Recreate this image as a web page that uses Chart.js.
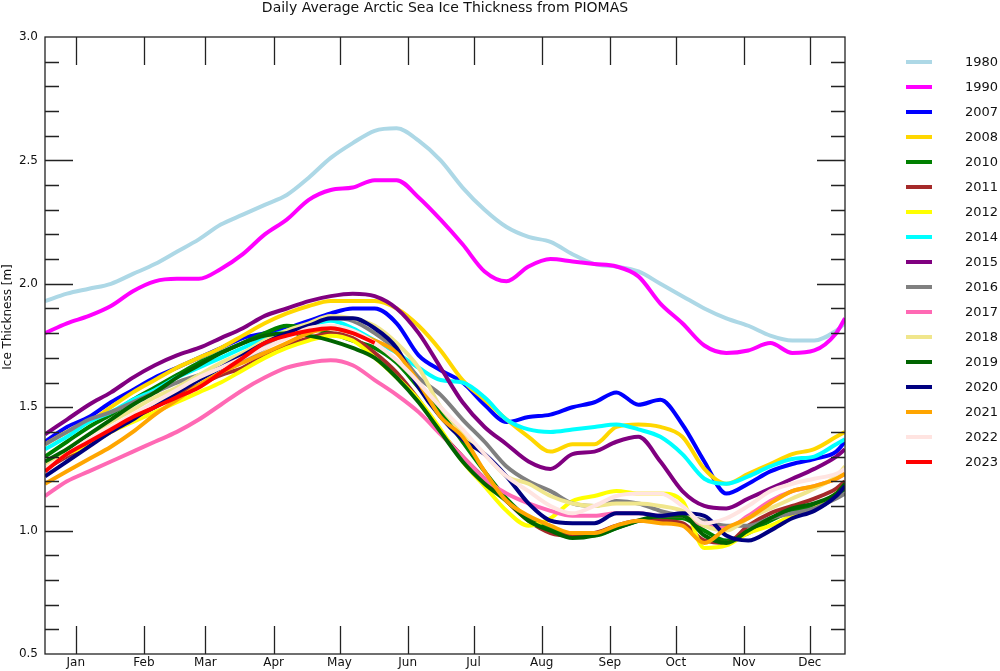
<!DOCTYPE html>
<html>
<head>
<meta charset="utf-8">
<script src="https://cdn.jsdelivr.net/npm/chart.js@4/dist/chart.umd.min.js"></script>
<style>
  html, body { margin:0; padding:0; background:#fff; }
  #wrap { width:1000px; height:671px; position:relative; }
</style>
</head>
<body>
<div id="wrap"><canvas id="iceChart"></canvas></div>
<script>
// ---------- data (day of year, thickness in m) ----------
const days = [1,11,21,31,41,51,61,71,81,91,101,111,121,131,141,151,161,171,181,191,
              201,211,221,231,241,251,261,271,281,291,301,311,321,331,341,351,361,365];

const monthDays  = [15,46,74,105,135,166,196,227,258,288,319,349];
const monthNames = ['Jan','Feb','Mar','Apr','May','Jun','Jul','Aug','Sep','Oct','Nov','Dec'];

const yearLabels = ['1980','1990','2007','2008','2010','2011','2012','2014','2015','2016','2017','2018','2019','2020','2021','2022','2023'];
const yearColors = ['#add8e6','#ff00ff','#0000ff','#ffd700','#008000','#a52a2a','#ffff00','#00ffff','#800080','#808080','#ff69b4','#f0e68c','#006400','#000080','#ffa500','#ffe4e1','#ff0000'];

const y1980 = [1.93,1.96,1.98,2.00,2.04,2.08,2.13,2.18,2.24,2.28,2.32,2.36,2.43,2.51,2.57,2.62,2.63,2.58,2.50,2.39,2.30,2.23,2.19,2.17,2.12,2.08,2.07,2.05,2.00,1.95,1.90,1.86,1.83,1.79,1.77,1.77,1.81,1.84];
const y1990 = [1.80,1.84,1.87,1.91,1.97,2.01,2.02,2.02,2.06,2.12,2.20,2.26,2.34,2.38,2.39,2.42,2.42,2.35,2.26,2.16,2.05,2.01,2.07,2.10,2.09,2.08,2.07,2.03,1.92,1.84,1.75,1.72,1.73,1.76,1.72,1.73,1.80,1.86];
const y2007 = [1.36,1.42,1.46,1.52,1.57,1.62,1.66,1.70,1.74,1.78,1.80,1.82,1.85,1.88,1.90,1.90,1.84,1.71,1.65,1.60,1.51,1.44,1.46,1.47,1.50,1.52,1.56,1.51,1.53,1.43,1.28,1.15,1.19,1.24,1.27,1.29,1.32,1.36];
const y2008 = [1.35,1.40,1.44,1.50,1.56,1.61,1.66,1.70,1.74,1.79,1.84,1.88,1.91,1.93,1.93,1.93,1.90,1.83,1.73,1.61,1.53,1.45,1.38,1.32,1.35,1.35,1.42,1.43,1.42,1.38,1.25,1.19,1.23,1.27,1.31,1.33,1.38,1.40];
const y2010 = [1.30,1.36,1.42,1.47,1.53,1.58,1.63,1.68,1.72,1.76,1.80,1.83,1.82,1.80,1.77,1.74,1.68,1.58,1.48,1.36,1.24,1.13,1.05,1.01,0.98,0.98,1.01,1.04,1.05,1.05,1.00,0.96,0.99,1.04,1.08,1.10,1.14,1.17];
const y2011 = [1.25,1.30,1.35,1.40,1.45,1.50,1.55,1.59,1.63,1.66,1.71,1.75,1.78,1.80,1.78,1.72,1.64,1.53,1.40,1.30,1.21,1.12,1.04,0.99,0.98,0.99,1.02,1.04,1.04,1.03,0.96,0.95,1.02,1.07,1.10,1.13,1.17,1.20];
const y2012 = [1.28,1.31,1.35,1.40,1.44,1.48,1.52,1.56,1.60,1.65,1.70,1.74,1.77,1.79,1.77,1.70,1.62,1.53,1.41,1.28,1.18,1.08,1.02,1.05,1.12,1.14,1.16,1.15,1.15,1.12,0.93,0.94,0.99,1.02,1.06,1.09,1.15,1.18];
const y2014 = [1.33,1.38,1.44,1.48,1.53,1.57,1.62,1.66,1.70,1.74,1.78,1.81,1.83,1.85,1.82,1.77,1.72,1.66,1.61,1.60,1.54,1.45,1.41,1.40,1.41,1.42,1.43,1.41,1.38,1.31,1.21,1.19,1.22,1.26,1.29,1.30,1.35,1.37];
const y2015 = [1.39,1.45,1.51,1.56,1.62,1.67,1.71,1.74,1.78,1.82,1.87,1.90,1.93,1.95,1.96,1.95,1.90,1.80,1.66,1.52,1.42,1.35,1.28,1.25,1.31,1.32,1.36,1.38,1.28,1.16,1.10,1.09,1.13,1.17,1.21,1.25,1.30,1.33];
const y2016 = [1.35,1.40,1.45,1.48,1.52,1.56,1.60,1.63,1.66,1.69,1.74,1.79,1.83,1.86,1.85,1.80,1.73,1.62,1.55,1.45,1.36,1.26,1.20,1.16,1.11,1.10,1.12,1.11,1.08,1.06,1.04,1.02,1.02,1.05,1.07,1.09,1.13,1.15];
const y2017 = [1.14,1.20,1.24,1.28,1.32,1.36,1.40,1.45,1.51,1.57,1.62,1.66,1.68,1.69,1.67,1.61,1.55,1.48,1.39,1.30,1.21,1.15,1.11,1.08,1.06,1.06,1.07,1.07,1.06,1.06,1.02,1.01,1.06,1.12,1.16,1.18,1.21,1.23];
const y2018 = [1.27,1.33,1.39,1.44,1.49,1.54,1.58,1.63,1.68,1.72,1.77,1.81,1.84,1.87,1.86,1.83,1.76,1.66,1.50,1.40,1.31,1.22,1.19,1.14,1.11,1.10,1.11,1.11,1.10,1.08,1.02,1.00,1.05,1.09,1.13,1.17,1.22,1.26];
const y2019 = [1.28,1.33,1.39,1.45,1.51,1.56,1.62,1.67,1.72,1.76,1.79,1.80,1.79,1.77,1.74,1.70,1.62,1.52,1.40,1.28,1.19,1.12,1.04,1.00,0.97,0.98,1.01,1.04,1.06,1.06,0.98,0.95,1.00,1.05,1.09,1.11,1.15,1.19];
const y2020 = [1.22,1.28,1.34,1.40,1.45,1.51,1.56,1.61,1.66,1.71,1.76,1.80,1.83,1.86,1.86,1.82,1.74,1.58,1.46,1.37,1.31,1.22,1.11,1.04,1.03,1.03,1.07,1.07,1.06,1.07,1.06,0.98,0.96,1.00,1.05,1.08,1.14,1.18];
const y2021 = [1.19,1.24,1.29,1.34,1.40,1.47,1.53,1.59,1.64,1.68,1.72,1.76,1.80,1.82,1.80,1.77,1.72,1.60,1.46,1.38,1.24,1.12,1.06,1.02,0.99,0.99,1.02,1.04,1.03,1.02,0.95,1.01,1.05,1.11,1.16,1.18,1.21,1.23];
const y2022 = [1.25,1.31,1.37,1.42,1.47,1.52,1.57,1.62,1.66,1.70,1.74,1.78,1.82,1.83,1.81,1.76,1.69,1.60,1.50,1.41,1.31,1.22,1.16,1.10,1.07,1.10,1.14,1.15,1.15,1.10,1.03,1.05,1.10,1.16,1.19,1.21,1.23,1.25];
const y2023 = [1.24,1.31,1.36,1.41,1.46,1.50,1.54,1.58,1.64,1.70,1.76,1.79,1.81,1.82,1.80,1.76,
               null,null,null,null,null,null,null,null,null,null,null,null,null,null,null,null,null,null,null,null,null,null];

const series = [y1980,y1990,y2007,y2008,y2010,y2011,y2012,y2014,y2015,y2016,y2017,y2018,y2019,y2020,y2021,y2022,y2023];

// ---------- frame, inward ticks, titles, legend ----------
const decor = {
  id: 'decor',
  afterDatasetsDraw(chart){
    const {ctx, chartArea:a, scales:{x, y}} = chart;
    ctx.save();
    ctx.strokeStyle = '#222';
    ctx.lineWidth = 1.3;
    ctx.strokeRect(a.left, a.top, a.right-a.left, a.bottom-a.top);
    ctx.beginPath();
    monthDays.forEach(d=>{
      const px = Math.round(x.getPixelForValue(d)) + 0.5;
      ctx.moveTo(px, a.top); ctx.lineTo(px, a.top+28);
      ctx.moveTo(px, a.bottom); ctx.lineTo(px, a.bottom-28);
    });
    for(let k=6;k<30;k++){
      const py = Math.round(y.getPixelForValue(k/10)) + 0.5;
      const len = (k%5===0) ? 28 : 14;
      ctx.moveTo(a.left, py); ctx.lineTo(a.left+len, py);
      ctx.moveTo(a.right, py); ctx.lineTo(a.right-len, py);
    }
    ctx.stroke();

    // titles
    ctx.fillStyle = '#111';
    ctx.font = '14px "DejaVu Sans"';
    ctx.textAlign = 'center';
    ctx.textBaseline = 'middle';
    ctx.fillText('Daily Average Arctic Sea Ice Thickness from PIOMAS', (a.left+a.right)/2, 8);
    ctx.save();
    ctx.translate(8, 317);
    ctx.rotate(-Math.PI/2);
    ctx.font = '12px "DejaVu Sans"';
    ctx.fillText('Ice Thickness [m]', 0, 0);
    ctx.restore();

    // legend
    ctx.font = '13px "DejaVu Sans"';
    ctx.textAlign = 'left';
    chart.data.datasets.forEach((ds, i)=>{
      const ly = 62 + i*25;
      ctx.fillStyle = ds.borderColor;
      ctx.fillRect(906, ly-2, 26, 4);
      ctx.fillStyle = '#111';
      ctx.fillText(ds.label, 965, ly+1);
    });
    ctx.restore();
  }
};

Chart.defaults.font.family = '"DejaVu Sans"';
Chart.defaults.color = '#111';

const ctx = document.getElementById('iceChart').getContext('2d');
new Chart(ctx, {
  type: 'line',
  data: {
    datasets: series.map((vals, i)=>({
      label: yearLabels[i],
      data: days.map((d, j)=>({x: d, y: vals[j]})),
      borderColor: yearColors[i],
      backgroundColor: yearColors[i],
      borderWidth: 4,
      pointRadius: 0,
      cubicInterpolationMode: 'monotone',
      order: series.length - i
    }))
  },
  options: {
    responsive: true,
    maintainAspectRatio: false,
    animation: false,
    layout: { padding: { top: 37, right: 155, left: 0, bottom: 0 } },
    plugins: {
      legend: { display: false },
      title: { display: false },
      tooltip: { enabled: false }
    },
    scales: {
      x: {
        type: 'linear',
        min: 1, max: 365,
        grid: { display: false, drawTicks: false },
        border: { display: false },
        afterBuildTicks: s => { s.ticks = monthDays.map(v=>({value:v})); },
        afterFit: s => { s.height = 17; },
        ticks: {
          autoSkip: false, maxRotation: 0, padding: 2,
          font: { size: 12 },
          callback: v => monthNames[monthDays.indexOf(v)]
        }
      },
      y: {
        min: 0.5, max: 3.0,
        grid: { display: false, drawTicks: false },
        border: { display: false },
        afterFit: s => { s.width = 45; },
        ticks: {
          stepSize: 0.5, padding: 7,
          font: { size: 12 },
          callback: v => v.toFixed(1)
        }
      }
    }
  },
  plugins: [decor]
});
</script>
</body>
</html>
